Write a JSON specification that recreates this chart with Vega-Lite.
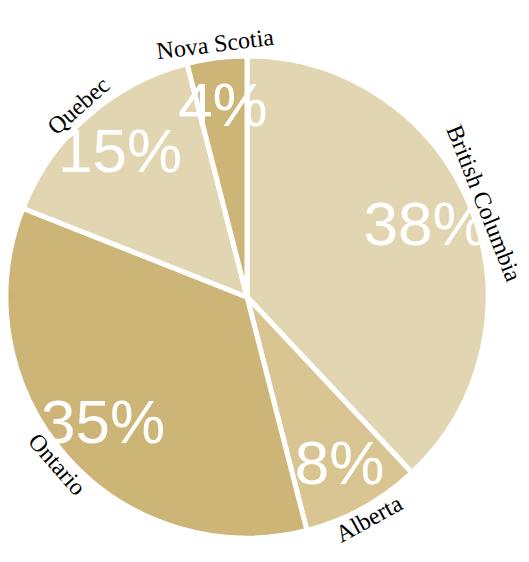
{
  "$schema": "https://vega.github.io/schema/vega-lite/v6.json",
  "autosize": {"type": "none"},
  "width": 488,
  "height": 534,
  "padding": {"left": 3, "top": 30, "right": 38, "bottom": 0},
  "background": "white",
  "data": {
    "values": [
      {"province": "British Columbia", "value": 38},
      {"province": "Alberta", "value": 8},
      {"province": "Ontario", "value": 35},
      {"province": "Quebec", "value": 15},
      {"province": "Nova Scotia", "value": 4}
    ]
  },
  "transform": [
    {"window": [{"op": "row_number", "as": "idx"}, {"op": "sum", "field": "value", "as": "cum"}], "frame": [null, 0]},
    {"joinaggregate": [{"op": "sum", "field": "value", "as": "total"}]},
    {"calculate": "(datum.cum - datum.value / 2) / datum.total * 360", "as": "mid"},
    {"calculate": "datum.mid > 90 && datum.mid < 270 ? datum.mid - 180 : datum.mid", "as": "labelAngle"},
    {"calculate": "datum.value + '%'", "as": "pct"}
  ],
  "encoding": {
    "theta": {"field": "value", "type": "quantitative", "stack": true},
    "order": {"field": "idx", "type": "quantitative"}
  },
  "layer": [
    {
      "mark": {"type": "arc", "outerRadius": 241, "stroke": "white", "strokeWidth": 5},
      "encoding": {
        "color": {
          "field": "province",
          "type": "nominal",
          "legend": null,
          "scale": {
            "domain": ["British Columbia", "Alberta", "Ontario", "Quebec", "Nova Scotia"],
            "range": ["#e2d6b2", "#d8c591", "#cdb577", "#e2d6b2", "#cdb577"]
          }
        }
      }
    },
    {
      "mark": {"type": "text", "radius": 192, "font": "Liberation Sans", "fontSize": 62, "color": "white", "align": "center", "baseline": "middle"},
      "encoding": {"text": {"field": "pct", "type": "nominal"}}
    },
    {
      "mark": {"type": "text", "radius": 254, "font": "Liberation Serif", "fontSize": 24, "color": "black", "align": "center", "baseline": "middle"},
      "encoding": {
        "text": {"field": "province", "type": "nominal"},
        "angle": {"field": "labelAngle", "type": "quantitative", "scale": null}
      }
    }
  ]
}
